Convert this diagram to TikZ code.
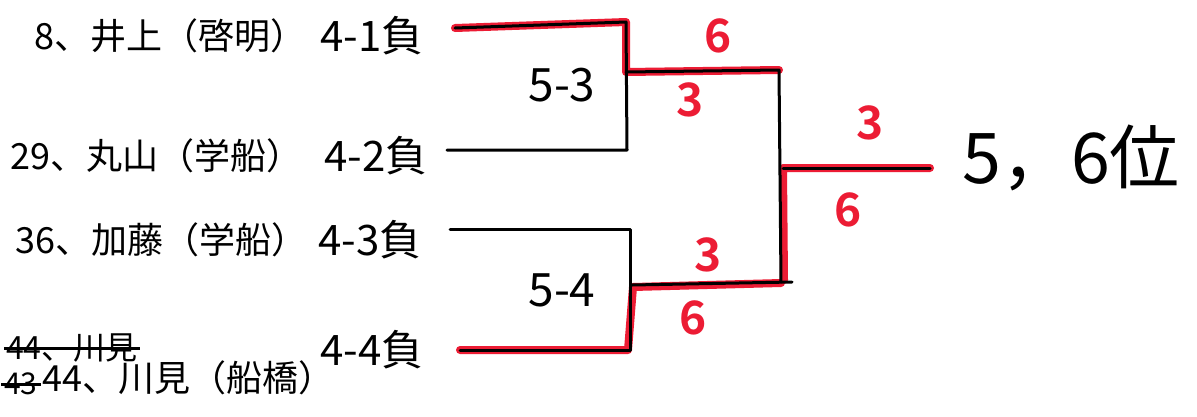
\documentclass[tikz,border=0pt]{standalone}
\usepackage{fontspec}
\setmainfont{Noto Sans CJK JP}
\newfontfamily\jpb{Noto Sans CJK JP}[UprightFont=* Bold]
\definecolor{marker}{RGB}{236,28,52}
\begin{document}
\begin{tikzpicture}[x=1pt,y=-1pt,
  namelbl/.style={anchor=west,inner sep=0pt,font=\fontsize{36}{36}\selectfont},
  scorelbl/.style={anchor=west,inner sep=0pt,font=\fontsize{42}{42}\selectfont},
  matchlbl/.style={inner sep=0pt,font=\fontsize{46}{46}\selectfont},
  redlbl/.style={inner sep=0pt,text=marker,font=\jpb\fontsize{46}{46}\selectfont},
  redline/.style={draw=marker,line width=8pt,line join=round,line cap=round},
  blkline/.style={draw=black,line width=3pt,line join=round,line cap=round}]
\useasboundingbox (0,0) rectangle (1197,416);
\fill[white] (0,0) rectangle (1197,416);
% corner coordinates
\coordinate (a1) at (455,28);
\coordinate (a2) at (626,22);
\coordinate (a3) at (627,150);
\coordinate (a4) at (447,150);
\coordinate (m1) at (626,72);
\coordinate (m2) at (779,70);
\coordinate (b1) at (450,229);
\coordinate (b2) at (630,229);
\coordinate (b3) at (630,350);
\coordinate (b4) at (460,350);
\coordinate (m3) at (632,285);
\coordinate (m4) at (792,282);
\coordinate (m5) at (781,282);
\coordinate (f1) at (783,168);
\coordinate (f2) at (930,168);
\coordinate (c1) at (628,350);
\coordinate (c2) at (633,287);
\coordinate (c3) at (781,283);
\coordinate (f0) at (784,280);
% red winner paths
\path[redline] (a1) -- (a2) -- (m1) -- (m2);
\path[redline] (b4) -- (c1) -- (c2) -- (c3);
\path[redline] (f0) -- (f1) -- (f2);
% black bracket
\path[blkline] (a1) -- (a2) -- (a3) -- (a4);
\path[blkline] (m1) -- (m2) -- (m5);
\path[blkline] (b1) -- (b2) -- (b3) -- (b4);
\path[blkline] (m3) -- (m4);
\path[blkline] (f1) -- (f2);
% entrants
\node[namelbl] (n1) at (34,36) {8、井上（啓明）};
\node[scorelbl] (s1) at (320,36) {4-1負};
\node[namelbl] (n2) at (10,156) {29、丸山（学船）};
\node[scorelbl] (s2) at (324,156) {4-2負};
\node[namelbl] (n3) at (15,240) {36、加藤（学船）};
\node[scorelbl] (s3) at (318,240) {4-3負};
\node[anchor=west,inner sep=0pt,font=\fontsize{32}{32}\selectfont] (x4) at (6,348) {44、川見};
\draw[line width=3pt] ([xshift=-2pt]x4.west) -- ([xshift=2pt]x4.east);
\node[anchor=west,inner sep=0pt,font=\fontsize{30}{30}\selectfont] (x3) at (4,384) {43};
\draw[line width=3pt] ([xshift=-3pt]x3.west) -- ([xshift=3pt]x3.east);
\node[namelbl] (n4) at (42,378) {44、川見（船橋）};
\node[scorelbl] (s4) at (320,350) {4-4負};
% match labels
\node[matchlbl] (g1) at (562,85) {5-3};
\node[matchlbl] (g2) at (562,290) {5-4};
% scores
\node[redlbl] (r1) at (718,36) {6};
\node[redlbl] (r2) at (690,100) {3};
\node[redlbl] (r3) at (708,255) {3};
\node[redlbl] (r4) at (693,318) {6};
\node[redlbl] (r5) at (870,123) {3};
\node[redlbl] (r6) at (848,210) {6};
% result
\node[anchor=west,inner sep=0pt,font=\fontsize{70}{70}\selectfont] (res) at (962,158) {5，6位};
\end{tikzpicture}
\end{document}
